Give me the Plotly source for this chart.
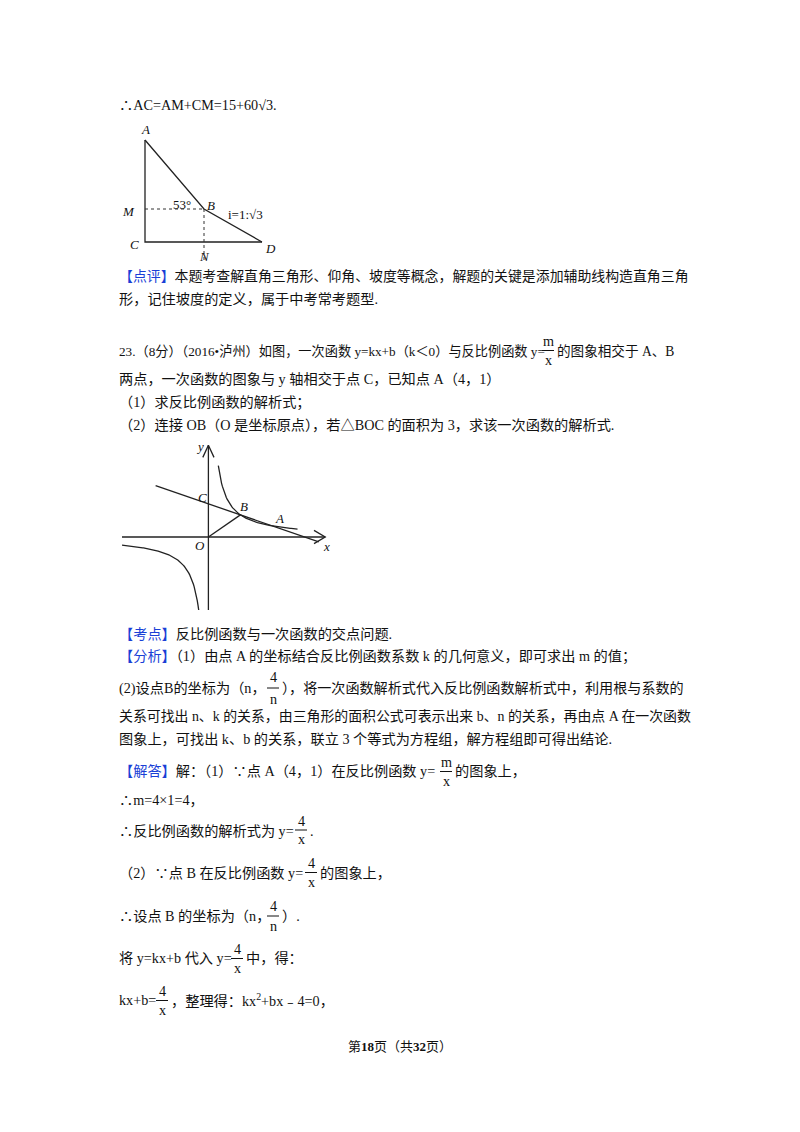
import plotly.graph_objects as go

W, H = 800, 1132
OFF = 8  # browser body margin
FONT = "Liberation Serif, Noto Sans CJK SC"
BLUE = "#1a3fd6"
FS = 14.2

# Triangle diagram (page pixel coords)
tri_x = [145, 145, 262]
tri_y = [140, 242, 242]
slope_x = [145, 204, 262]
slope_y = [140, 209, 242]
dash_mb_x = [145, 204]
dash_mb_y = [209, 209]
dash_bn_x = [204, 204]
dash_bn_y = [209, 262]
tri_labels = [("A", 145, 129), ("M", 128, 211), ("C", 134, 244), ("N", 204, 256),
              ("D", 270, 248), ("B", 211, 205), ("53°", 182, 204)]

# Function graph data (graph units)
line_x = [-3.3, 6.9]
k_line, b_line = -0.5, 3.0
hyp_m = 4
right_branch_x = [0.62 + i * 0.05 for i in range(100)]
left_branch_x = [-5.4 + i * 0.048 for i in range(101)]
B_pt = (2, 2)

fig = go.Figure()
fig.update_layout(
    width=W, height=H, margin=dict(l=0, r=0, t=0, b=0),
    paper_bgcolor="white", plot_bgcolor="rgba(0,0,0,0)", showlegend=False,
    xaxis=dict(range=[OFF, W + OFF], visible=False, domain=[0, 1], fixedrange=True),
    yaxis=dict(range=[H + OFF, OFF], visible=False, domain=[0, 1], fixedrange=True),
    xaxis2=dict(range=[-5.4, 7.6], visible=False, domain=[(122 - OFF) / W, (330 - OFF) / W], anchor="y2"),
    yaxis2=dict(range=[-6.6, 8.5], visible=False, domain=[1 - (610 - OFF) / H, 1 - (443 - OFF) / H], anchor="x2"),
)

ln = dict(color="#222", width=1.3)
fig.add_trace(go.Scatter(x=tri_x, y=tri_y, mode="lines", line=ln))
fig.add_trace(go.Scatter(x=slope_x, y=slope_y, mode="lines", line=ln))
fig.add_trace(go.Scatter(x=dash_mb_x, y=dash_mb_y, mode="lines", line=dict(color="#333", width=1, dash="dot")))
fig.add_trace(go.Scatter(x=dash_bn_x, y=dash_bn_y, mode="lines", line=dict(color="#333", width=1, dash="dot")))

def ann(x, y, text, xa="left", size=FS, italic=False, color="#111"):
    if italic:
        text = "<i>" + text + "</i>"
    fig.add_annotation(x=x, y=y, xref="x", yref="y", text=text, showarrow=False,
                       xanchor=xa, yanchor="middle", font=dict(family=FONT, size=size, color=color))

for t, x, y in tri_labels:
    ann(x, y, t, "center", 13, italic=(t != "53°"))
ann(226, 214, "i=1:√3", "left", 13)

ax2 = dict(xaxis="x2", yaxis="y2")
fig.add_trace(go.Scatter(x=[-5.4, 7.3], y=[0, 0], mode="lines", line=ln, **ax2))
fig.add_trace(go.Scatter(x=[0, 0], y=[-6.6, 8.3], mode="lines", line=ln, **ax2))
fig.add_trace(go.Scatter(x=[6.6, 7.3, 6.6], y=[0.6, 0, -0.6], mode="lines", line=ln, **ax2))
fig.add_trace(go.Scatter(x=[-0.35, 0, 0.35], y=[7.2, 8.3, 7.2], mode="lines", line=ln, **ax2))
fig.add_trace(go.Scatter(x=line_x, y=[k_line * v + b_line for v in line_x], mode="lines", line=ln, **ax2))
fig.add_trace(go.Scatter(x=right_branch_x, y=[hyp_m / v for v in right_branch_x], mode="lines", line=ln, **ax2))
fig.add_trace(go.Scatter(x=left_branch_x, y=[hyp_m / v for v in left_branch_x], mode="lines", line=ln, **ax2))
fig.add_trace(go.Scatter(x=[0, B_pt[0]], y=[0, B_pt[1]], mode="lines", line=ln, **ax2))
for t, x, y in [("y", 200, 446), ("C", 202, 497), ("B", 244, 506), ("A", 279, 518), ("O", 200, 545), ("x", 326, 546)]:
    ann(x, y, t, "center", 13, italic=True)

def frac(xc, ytop, ybot, num, den):
    ann(xc, ytop, num, "center", FS)
    ann(xc, ybot, den, "center", FS)
    fig.add_shape(type="line", x0=xc - 6, x1=xc + 6, y0=(ytop + ybot) / 2, y1=(ytop + ybot) / 2,
                  xref="x", yref="y", line=dict(color="#111", width=1))

def tag(s):
    return f"<span style='color:{BLUE}'>{s}</span>"

ann(117, 105, "∴AC=AM+CM=15+60√3.")
ann(117, 276, tag("【点评】") + "本题考查解直角三角形、仰角、坡度等概念，解题的关键是添加辅助线构造直角三角", size=13.9)
ann(117, 299, "形，记住坡度的定义，属于中考常考题型.")

ann(117, 351, "23.（8分）（2016•泸州）如图，一次函数 y=kx+b（k＜0）与反比例函数 y=", size=13.2)
frac(548, 341, 360, "m", "x")
ann(555, 351, "的图象相交于 A、B", size=13.6)
ann(117, 379, "两点，一次函数的图象与 y 轴相交于点 C，已知点 A（4，1）")
ann(117, 402, "（1）求反比例函数的解析式；")
ann(117, 425, "（2）连接 OB（O 是坐标原点），若△BOC 的面积为 3，求该一次函数的解析式.")

ann(117, 634, tag("【考点】") + "反比例函数与一次函数的交点问题.")
ann(117, 656, tag("【分析】") + "（1）由点 A 的坐标结合反比例函数系数 k 的几何意义，即可求出 m 的值；")
ann(117, 688, "(2)设点B的坐标为（n，")
frac(273, 677, 699, "4", "n")
ann(280, 688, "），将一次函数解析式代入反比例函数解析式中，利用根与系数的", size=14.1)
ann(117, 716, "关系可找出 n、k 的关系，由三角形的面积公式可表示出来 b、n 的关系，再由点 A 在一次函数", size=13.9)
ann(117, 739, "图象上，可找出 k、b 的关系，联立 3 个等式为方程组，解方程组即可得出结论.")

ann(117, 771, tag("【解答】") + "解：（1）∵点 A（4，1）在反比例函数 y=")
frac(446, 762, 781, "m", "x")
ann(453, 771, "的图象上，")
ann(117, 800, "∴m=4×1=4，")
ann(117, 831, "∴反比例函数的解析式为 y=")
frac(301, 821, 839, "4", "x")
ann(308, 831, ".")
ann(117, 873, "（2）∵点 B 在反比例函数 y=")
frac(311, 863, 882, "4", "x")
ann(318, 873, "的图象上，")
ann(117, 916, "∴设点 B 的坐标为（n，")
frac(273, 906, 926, "4", "n")
ann(280, 916, "）.")
ann(117, 958, "将 y=kx+b 代入 y=")
frac(237, 949, 968, "4", "x")
ann(244, 958, "中，得：")
ann(117, 1000, "kx+b=")
frac(162, 991, 1010, "4", "x")
ann(169, 1000, "，整理得：kx<sup>2</sup>+bx﹣4=0，")

ann(400, 1046, "第<b>18</b>页（共<b>32</b>页）", "center", 13)

fig.write_html("out.html")
